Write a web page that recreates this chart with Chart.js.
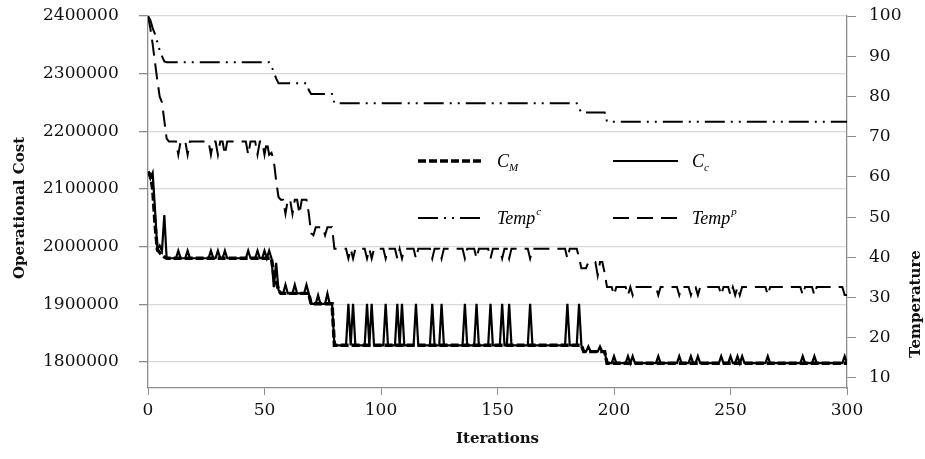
<!DOCTYPE html>
<html>
<head>
<meta charset="utf-8">
<script src="https://cdn.jsdelivr.net/npm/chart.js@4/dist/chart.umd.min.js"></script>
<style>
  html, body { margin: 0; padding: 0; background: #fff; }
  #wrap { width: 925px; height: 459px; }
  canvas { display: block; }
</style>
</head>
<body>
<div id="wrap"><canvas id="c" width="925" height="459"></canvas></div>
<script>
// ---- axis ticks ----
const iterationRange = [0, 300];
const costTicks = [1800000, 1900000, 2000000, 2100000, 2200000, 2300000, 2400000];
const costRange = [1755000, 2400000];
const tempTicks = [10, 20, 30, 40, 50, 60, 70, 80, 90, 100];
const tempRange = [7.5, 100];

// ---- C_c : current cost per iteration ----
const ccIter = [
  0, 1, 2, 3, 4, 5, 6, 7, 8,
  12, 13, 14, 16, 17, 18, 26, 27, 28, 29, 30, 31, 32, 33, 34, 42, 43, 44, 46, 47, 48,
  49, 50, 51, 52, 53,
  54, 55, 56, 57,
  58, 59, 60, 62, 63, 64, 67, 68, 69,
  70, 72, 73, 74, 76, 77, 78, 79,
  80,
  85, 86, 87, 88, 89,
  93, 94, 95, 96, 97,
  101, 102, 103,
  106, 107, 108, 109, 110,
  114, 115, 116, 121, 122, 123, 125, 126, 127, 135, 136, 137, 140, 141, 142, 146, 147, 148,
  151, 152, 153, 154, 155, 156,
  163, 164, 165, 179, 180, 181, 184, 185, 186,
  187, 188, 189, 190, 193, 194, 195, 196,
  197,
  199, 200, 201,
  205, 206, 207, 208, 209,
  218, 219, 220, 227, 228, 229,
  232, 233, 234, 235, 236, 237,
  245, 246, 247,
  249, 250, 251, 252, 253, 254, 255, 256,
  265, 266, 267, 280, 281, 282, 285, 286, 287, 298, 299, 300
];
const ccCost = [
  2130000, 2118000, 2128000, 2065000, 1996000, 2002000, 1993000, 2055000, 1980000,
  1980000, 1993000, 1980000, 1980000, 1993000, 1980000, 1980000, 1993000, 1980000, 1980000, 1993000, 1980000, 1980000, 1993000, 1980000, 1980000, 1993000, 1980000, 1980000, 1993000, 1980000,
  1980000, 1993000, 1980000, 1993000, 1980000,
  1930000, 1972000, 1925000, 1919000,
  1919000, 1934000, 1919000, 1919000, 1934000, 1919000, 1919000, 1934000, 1919000,
  1901000, 1901000, 1916000, 1901000, 1901000, 1919000, 1901000, 1901000,
  1829000,
  1829000, 1901000, 1829000, 1901000, 1829000,
  1829000, 1901000, 1829000, 1901000, 1829000,
  1829000, 1901000, 1829000,
  1829000, 1901000, 1829000, 1901000, 1829000,
  1829000, 1901000, 1829000, 1829000, 1901000, 1829000, 1829000, 1901000, 1829000, 1829000, 1901000, 1829000, 1829000, 1901000, 1829000, 1829000, 1901000, 1829000,
  1829000, 1901000, 1829000, 1829000, 1901000, 1829000,
  1829000, 1901000, 1829000, 1829000, 1901000, 1829000, 1829000, 1901000, 1829000,
  1818000, 1818000, 1827000, 1818000, 1818000, 1827000, 1818000, 1818000,
  1798000,
  1798000, 1810000, 1798000,
  1798000, 1810000, 1798000, 1810000, 1798000,
  1798000, 1810000, 1798000, 1798000, 1810000, 1798000,
  1798000, 1810000, 1798000, 1798000, 1810000, 1798000,
  1798000, 1810000, 1798000,
  1798000, 1810000, 1798000, 1798000, 1810000, 1798000, 1810000, 1798000,
  1798000, 1810000, 1798000, 1798000, 1810000, 1798000, 1798000, 1810000, 1798000, 1798000, 1810000, 1798000
];

// ---- C_M : best cost so far ----
const cmIter = [0, 1, 2, 3, 4, 5, 6, 7, 8, 53, 54, 55, 56, 57, 69, 70, 79, 80, 186, 187, 196, 197, 300];
const cmCost = [2130000, 2125000, 2100000, 2040000, 1995000, 1990000, 1985000, 1982000, 1980000,
  1980000, 1950000, 1940000, 1925000, 1919000, 1919000, 1901000, 1901000, 1829000, 1829000,
  1818000, 1818000, 1798000, 1798000];

// ---- Temp^c ----
const tcIter = [0, 1, 2, 3, 4, 5, 6, 7, 8, 52, 53, 54, 55, 56, 68, 69, 70, 79, 80, 184, 185, 186, 196, 197, 300];
const tcTemp = [100, 99, 97, 95.5, 93.5, 91.5, 90, 88.7, 88.5, 88.5, 87.5, 86, 84.5, 83.3, 83.3,
  81.6, 80.6, 80.6, 78.3, 78.3, 77, 76, 76, 73.7, 73.7];

// ---- Temp^p ----
const tpIter = [
  0, 1, 2, 3, 4, 5, 6, 7, 8, 9,
  12, 13, 14, 16, 17, 18, 26, 27, 28, 29, 30, 31, 32, 33, 34, 42, 43, 44, 46, 47, 48,
  49, 50, 51, 52,
  53, 54, 55, 56, 57,
  58, 59, 60, 61, 62, 63, 64, 65, 66,
  68, 69, 70, 71, 72,
  75, 76, 77, 79, 80,
  85, 86, 87, 88, 89,
  93, 94, 95, 96, 97,
  101, 102, 103,
  106, 107, 108, 109, 110,
  114, 115, 116, 121, 122, 123, 125, 126, 127, 135, 136, 137, 140, 141, 142, 146, 147, 148,
  151, 152, 153, 154, 155, 156,
  163, 164, 165, 179, 180, 181,
  184, 185, 186, 188, 189, 192, 193, 194, 195, 196, 197,
  199, 200, 201,
  205, 206, 207, 208, 209,
  218, 219, 220, 227, 228, 229,
  232, 233, 234, 235, 236, 237,
  245, 246, 247,
  249, 250, 251, 252, 253, 254, 255, 256,
  265, 266, 267, 280, 281, 282, 285, 286, 287, 298, 299, 300
];
const tpTemp = [
  100, 97, 93, 88.5, 84, 80, 78.5, 74, 69.5, 68.8,
  68.8, 65.5, 68.8, 68.8, 65.5, 68.8, 68.8, 65.5, 68.8, 68.8, 65.5, 68.8, 68.8, 65.5, 68.8, 68.8, 65.5, 68.8, 68.8, 65.5, 68.8,
  68.8, 65.5, 68.8, 65.5,
  66, 64, 59, 55, 54.3,
  54.3, 50.8, 54.3, 54.3, 50.8, 54.3, 54.3, 50.8, 54.3,
  54.3, 51, 46, 45.5, 47.5,
  47.5, 45.5, 47.5, 47.5, 42.1,
  42.1, 39.7, 42.1, 39.7, 42.1,
  42.1, 39.7, 42.1, 39.7, 42.1,
  42.1, 39.7, 42.1,
  42.1, 39.7, 42.1, 39.7, 42.1,
  42.1, 39.7, 42.1, 42.1, 39.7, 42.1, 42.1, 39.7, 42.1, 42.1, 39.7, 42.1, 42.1, 39.7, 42.1, 42.1, 39.7, 42.1,
  42.1, 39.7, 42.1, 42.1, 39.7, 42.1,
  42.1, 39.7, 42.1, 42.1, 39.7, 42.1,
  42.1, 40, 37.3, 37.3, 38.8, 38.8, 35.5, 38.8, 38.8, 36, 32.6,
  32.6, 30.6, 32.6,
  32.6, 30.6, 32.6, 30.6, 32.6,
  32.6, 30.6, 32.6, 32.6, 30.6, 32.6,
  32.6, 30.6, 32.6, 32.6, 30.6, 32.6,
  32.6, 30.6, 32.6,
  32.6, 30.6, 32.6, 30.6, 32.6, 30.6, 32.6, 32.6,
  32.6, 30.6, 32.6, 32.6, 30.6, 32.6, 32.6, 30.6, 32.6, 32.6, 30.6, 30.6
];

const toPoints = (xs, ys) => xs.map((x, i) => ({ x: x, y: ys[i] }));

// ---- styling ----
const AXIS_GREY = '#8c8c8c';
const GRID_GREY = '#d9d9d9';
const TEXT = '#111';
const SERIF = '"DejaVu Serif", serif';

const series = [
  { key: 'C', sub: 'c', iter: ccIter, vals: ccCost, axis: 'y', dash: [], width: 2.2, order: 0 },
  { key: 'C', sub: 'M', iter: cmIter, vals: cmCost, axis: 'y', dash: [8, 3], width: 3.4, order: 1 },
  { key: 'Temp', sup: 'c', iter: tcIter, vals: tcTemp, axis: 'y1', dash: [20, 6, 2, 6, 2, 6], width: 2, order: 2 },
  { key: 'Temp', sup: 'p', iter: tpIter, vals: tpTemp, axis: 'y1', dash: [16, 8], width: 2, order: 3 }
];

// Key drawn inside the plot: 2 x 2 grid, with sub/superscripts on the names
const seriesKey = {
  id: 'seriesKey',
  afterDatasetsDraw(chart) {
    const { ctx, chartArea: a } = chart;
    const cols = [a.left + 270, a.left + 465];
    const rows = [a.top + 145, a.top + 202];
    const layout = [
      { s: series[1], c: 0, r: 0 },
      { s: series[0], c: 1, r: 0 },
      { s: series[2], c: 0, r: 1 },
      { s: series[3], c: 1, r: 1 }
    ];
    ctx.save();
    layout.forEach(({ s, c, r }) => {
      const x0 = cols[c], y0 = rows[r];
      ctx.beginPath();
      ctx.setLineDash(s.dash);
      ctx.lineWidth = s.width;
      ctx.strokeStyle = '#000';
      ctx.moveTo(x0, y0);
      ctx.lineTo(x0 + 65, y0);
      ctx.stroke();
      ctx.setLineDash([]);
      const tx = x0 + 79;
      const base = y0 + 6;
      ctx.fillStyle = '#000';
      ctx.textBaseline = 'alphabetic';
      ctx.textAlign = 'left';
      ctx.font = 'italic 18px "Liberation Serif", serif';
      ctx.fillText(s.key, tx, base);
      const w = ctx.measureText(s.key).width;
      ctx.font = 'italic 11px "Liberation Serif", serif';
      if (s.sub) ctx.fillText(s.sub, tx + w, base + 4);
      if (s.sup) ctx.fillText(s.sup, tx + w + 1, base - 9);
    });
    ctx.restore();
  }
};

// Vertical axis titles, both reading bottom to top
const axisTitles = {
  id: 'axisTitles',
  afterDraw(chart) {
    const { ctx } = chart;
    const draw = (text, x, y) => {
      ctx.save();
      ctx.translate(x, y);
      ctx.rotate(-Math.PI / 2);
      ctx.font = 'bold 15px ' + SERIF;
      ctx.fillStyle = TEXT;
      ctx.textAlign = 'center';
      ctx.textBaseline = 'middle';
      ctx.fillText(text, 0, 0);
      ctx.restore();
    };
    draw('Operational Cost', 20, 208);
    draw('Temperature', chart.scales.y1.right - 9, 304);
  }
};

Chart.defaults.font.family = SERIF;
Chart.defaults.color = TEXT;

new Chart(document.getElementById('c'), {
  type: 'line',
  data: {
    datasets: series.map(s => ({
      label: s.key + (s.sub || s.sup),
      data: toPoints(s.iter, s.vals),
      yAxisID: s.axis,
      borderColor: '#000',
      borderWidth: s.width,
      borderDash: s.dash,
      pointRadius: 0,
      tension: 0,
      fill: false,
      order: s.order
    }))
  },
  options: {
    responsive: false,
    animation: false,
    devicePixelRatio: 1,
    layout: { padding: { top: 16, left: 43, right: 0, bottom: 0 } },
    plugins: { legend: { display: false }, tooltip: { enabled: false } },
    scales: {
      x: {
        type: 'linear',
        position: 'bottom',
        min: iterationRange[0],
        max: iterationRange[1],
        ticks: { stepSize: 50, font: { size: 17 }, color: TEXT, padding: 5, maxRotation: 0 },
        grid: { drawOnChartArea: false, drawTicks: true, tickLength: 7, tickColor: AXIS_GREY, color: AXIS_GREY },
        border: { color: AXIS_GREY, width: 1.3 },
        title: { display: true, text: 'Iterations', font: { size: 15, weight: 'bold' }, color: TEXT, padding: { top: 0, bottom: 11 } },
        afterFit: s => { s.height = 71; }
      },
      y: {
        type: 'linear',
        position: 'left',
        min: costRange[0],
        max: costRange[1],
        afterBuildTicks: s => { s.ticks = costTicks.map(v => ({ value: v })); },
        ticks: { font: { size: 17 }, color: TEXT, crossAlign: 'far', callback: v => String(v) },
        grid: { color: GRID_GREY, lineWidth: 1.3, tickLength: 9, tickColor: AXIS_GREY },
        border: { color: AXIS_GREY, width: 1.3 },
        afterFit: s => { s.width = 105; s.paddingTop = 0; s.paddingBottom = 0; }
      },
      y1: {
        type: 'linear',
        position: 'right',
        min: tempRange[0],
        max: tempRange[1],
        afterBuildTicks: s => { s.ticks = tempTicks.map(v => ({ value: v })); },
        ticks: { font: { size: 17 }, color: TEXT, padding: 13, callback: v => String(v) },
        grid: { drawOnChartArea: false, tickLength: 9, tickColor: AXIS_GREY, color: AXIS_GREY },
        border: { color: AXIS_GREY, width: 1.3 },
        afterFit: s => { s.width = 78; s.paddingTop = 0; s.paddingBottom = 0; }
      }
    }
  },
  plugins: [seriesKey, axisTitles]
});
</script>
</body>
</html>
